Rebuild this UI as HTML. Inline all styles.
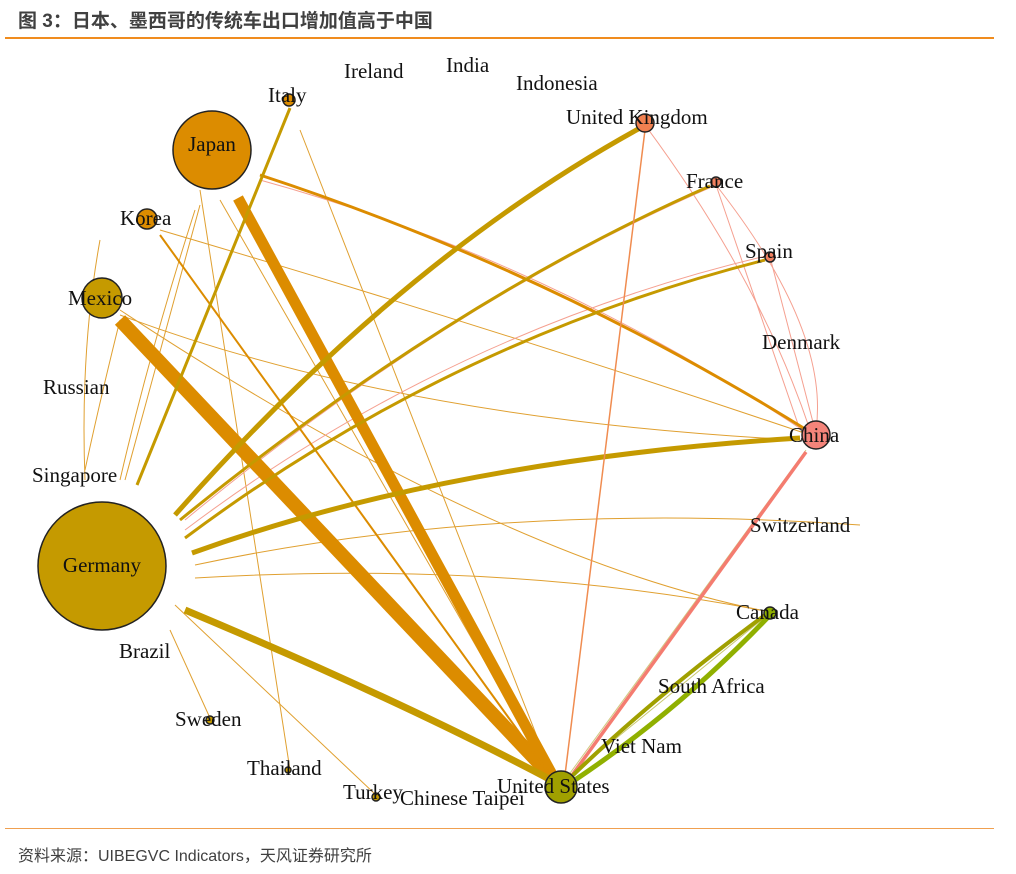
<!DOCTYPE html>
<html><head><meta charset="utf-8"><style>
body{margin:0;background:#fff;width:1016px;height:874px;overflow:hidden;position:relative;font-family:"Liberation Sans","Noto Sans CJK SC",sans-serif}
.t{position:absolute;left:18px;top:6px;font-size:19px;font-weight:bold;color:#404040}
.l1{position:absolute;left:5px;top:37px;width:989px;height:2px;background:#f08c1e}
.l2{position:absolute;left:5px;top:828px;width:989px;height:1px;background:#f0a050}
.s{position:absolute;left:18px;top:842px;font-size:16px;color:#404040}
svg{position:absolute;left:0;top:0}
text{font-family:"Liberation Serif",serif;font-size:21px;fill:#111}
</style></head><body>
<div class="t">图 3：日本、墨西哥的传统车出口增加值高于中国</div>
<div class="l1"></div>
<svg width="1016" height="874" fill="none">
<g stroke="#e0a030" stroke-width="1">
<path d="M120 315 Q400 420 800 440"/>
<path d="M160 230 Q500 330 810 435"/>
<path d="M120 310 Q500 560 770 612"/>
<path d="M195 565 Q500 500 860 525"/>
<path d="M195 578 Q500 560 760 610"/>
<path d="M200 190 L290 770"/>
<path d="M220 200 L550 775"/>
<path d="M300 130 L550 770"/>
<path d="M120 320 Q100 400 85 470"/>
<path d="M200 205 Q160 350 125 480"/>
<path d="M170 630 L210 718"/>
<path d="M175 605 L376 795"/>
<path d="M100 240 Q80 350 85 480"/>
<path d="M195 210 Q150 350 120 480"/>
</g>
<g stroke="#f5a090" stroke-width="1">
<path d="M185 530 Q450 330 770 255"/>
<path d="M185 520 Q450 300 716 185"/>
<path d="M260 180 Q550 260 810 435"/>
<path d="M645 125 Q760 280 810 430"/>
<path d="M716 185 L800 430"/>
<path d="M770 257 L815 430"/>
<path d="M716 185 Q830 330 816 430"/>
</g>
<path d="M120 320 L555 780" stroke="#a0a020" stroke-width="1.5"/>
<path d="M770 613 L565 780" stroke="#c8c870" stroke-width="1"/>
<path d="M806 450 L565 780" stroke="#d0c880" stroke-width="1"/>
<g stroke="#dc8c00">
<path d="M120 320 L555 780" stroke-width="14"/>
<path d="M238 198 L555 780" stroke-width="11"/>
<path d="M260 175 Q550 270 810 432" stroke-width="3"/>
<path d="M160 235 L550 775" stroke-width="2"/>
</g>
<g stroke="#c59a00">
<path d="M185 610 Q400 700 555 782" stroke-width="7"/>
<path d="M192 553 Q450 460 800 438" stroke-width="5"/>
<path d="M175 515 Q400 260 640 128" stroke-width="5"/>
<path d="M180 520 Q450 300 710 186" stroke-width="3"/>
<path d="M185 538 Q450 340 765 260" stroke-width="3"/>
<path d="M137 485 L290 108" stroke-width="3"/>
</g>
<path d="M645 130 L565 775" stroke="#f08c50" stroke-width="1.5"/>
<path d="M806 452 L570 778" stroke="#f47c70" stroke-width="3.5"/>
<path d="M765 615 Q650 700 568 780" stroke="#a0a000" stroke-width="4"/>
<path d="M770 615 Q680 710 572 782" stroke="#90b000" stroke-width="5"/>
<g stroke="#222" stroke-width="1.5">
<circle cx="102" cy="566" r="64" fill="#c59a00"/>
<circle cx="212" cy="150" r="39" fill="#dc8c00"/>
<circle cx="102" cy="298" r="20" fill="#c59a00"/>
<circle cx="147" cy="219" r="10" fill="#dc8c00"/>
<circle cx="289" cy="100" r="6" fill="#dc8c00"/>
<circle cx="645" cy="123" r="9" fill="#f08050"/>
<circle cx="716" cy="182" r="5" fill="#f08060"/>
<circle cx="770" cy="257" r="5" fill="#f08060"/>
<circle cx="816" cy="435" r="14" fill="#f4847a"/>
<circle cx="770" cy="613" r="6" fill="#90b000"/>
<circle cx="561" cy="787" r="16" fill="#a0a000"/>
<circle cx="376" cy="797" r="4" fill="#c59a00"/>
<circle cx="288" cy="770" r="3" fill="#c59a00"/>
<circle cx="210" cy="720" r="4" fill="#c59a00"/>
</g>
<text x="102" y="572" text-anchor="middle">Germany</text>
<text x="212" y="151" text-anchor="middle">Japan</text>
<text x="68" y="305">Mexico</text>
<text x="120" y="225">Korea</text>
<text x="268" y="102">Italy</text>
<text x="344" y="78">Ireland</text>
<text x="446" y="72">India</text>
<text x="516" y="90">Indonesia</text>
<text x="566" y="124">United Kingdom</text>
<text x="686" y="188">France</text>
<text x="745" y="258">Spain</text>
<text x="762" y="349">Denmark</text>
<text x="789" y="442">China</text>
<text x="750" y="532">Switzerland</text>
<text x="736" y="619">Canada</text>
<text x="658" y="693">South Africa</text>
<text x="601" y="753">Viet Nam</text>
<text x="497" y="793">United States</text>
<text x="400" y="805">Chinese Taipei</text>
<text x="343" y="799">Turkey</text>
<text x="247" y="775">Thailand</text>
<text x="175" y="726">Sweden</text>
<text x="119" y="658">Brazil</text>
<text x="43" y="394">Russian</text>
<text x="32" y="482">Singapore</text>
</svg>
<div class="l2"></div>
<div class="s">资料来源：UIBEGVC Indicators，天风证券研究所</div>
</body></html>
